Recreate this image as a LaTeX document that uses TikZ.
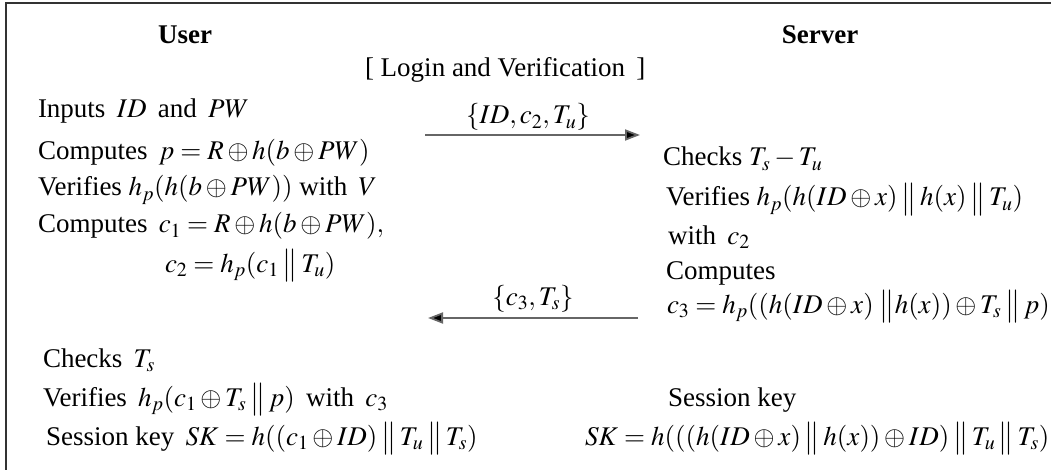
\documentclass[tikz,border=0pt]{standalone}
\usepackage{mathptmx}
\usepackage{fontspec}
\setmainfont{Liberation Serif}
\usetikzlibrary{arrows.meta}
\tikzset{
  txt/.style={anchor=base west, inner sep=0pt, outer sep=0pt},
  head/.style={anchor=base, inner sep=0pt, font=\fontsize{27}{32}\selectfont\bfseries},
  msg/.style={draw=black!60, line width=1.8pt, -{Triangle[length=15pt,width=11pt,fill=black]}},
  lbl/.style={anchor=base, inner sep=0pt}
}
\newcommand{\cc}{\mathbin{\big\|}}
\begin{document}
\begin{tikzpicture}[x=1pt,y=-1pt,font=\fontsize{27}{32}\selectfont]
\useasboundingbox (0,0) rectangle (1051,470);
\draw[line width=1.5pt, black!80] (6,3) rectangle (1070,490);
% headers
\node[head] (user) at (185,44) {User};
\node[head] (server) at (820,44) {Server};
\node[txt] (title) at (365,77) {[ Login and Verification\, ]};
% user side
\node[txt] (u1) at (38,118) {Inputs \,$ID$\, and \,$PW$};
\node[txt] (u2) at (38,160) {Computes \,$p = R\oplus h(b\oplus PW)$};
\node[txt] (u3) at (38,196) {Verifies $h_p(h(b\oplus PW))$ with \,$V$};
\node[txt] (u4) at (38,233) {Computes \,$c_1 = R\oplus h(b\oplus PW),$};
\node[txt] (u5) at (165,272) {$c_2 = h_p(c_1 \cc T_u)$};
% message 1
\coordinate (m1s) at (425,135);
\coordinate (m1e) at (640,135);
\draw[msg] (m1s) -- (m1e);
\node[lbl] (l1) at (528,124) {$\{ID, c_2, T_u\}$};
% server side
\node[txt] (s1) at (663,166) {Checks $T_s - T_u$};
\node[txt] (s2) at (666,206) {Verifies $h_p(h(ID\oplus x)\cc h(x)\cc T_u)$};
\node[txt] (s3) at (668,244) {with \,$c_2$};
\node[txt] (s4) at (666,279) {Computes};
\node[txt] (s5) at (667,313) {$c_3 = h_p((h(ID\oplus x)\;\big\| h(x))\oplus T_s\cc p)$};
% message 2
\coordinate (m2s) at (638,318);
\coordinate (m2e) at (428,318);
\draw[msg] (m2s) -- (m2e);
\node[lbl] (l2) at (533,305) {$\{c_3, T_s\}$};
% user side bottom
\node[txt] (u6) at (43,367) {Checks \,$T_s$};
\node[txt] (u7) at (43,406) {Verifies \,$h_p(c_1\oplus T_s\cc p)$\, with \,$c_3$};
\node[txt] (u8) at (46,445) {Session key \,$SK = h((c_1\oplus ID)\cc T_u\cc T_s)$};
% server bottom
\node[txt] (s6) at (668,406) {Session key};
\node[txt] (s7) at (585,445) {$SK = h(((h(ID\oplus x)\cc h(x))\oplus ID)\cc T_u\cc T_s)$};
\end{tikzpicture}
\end{document}
